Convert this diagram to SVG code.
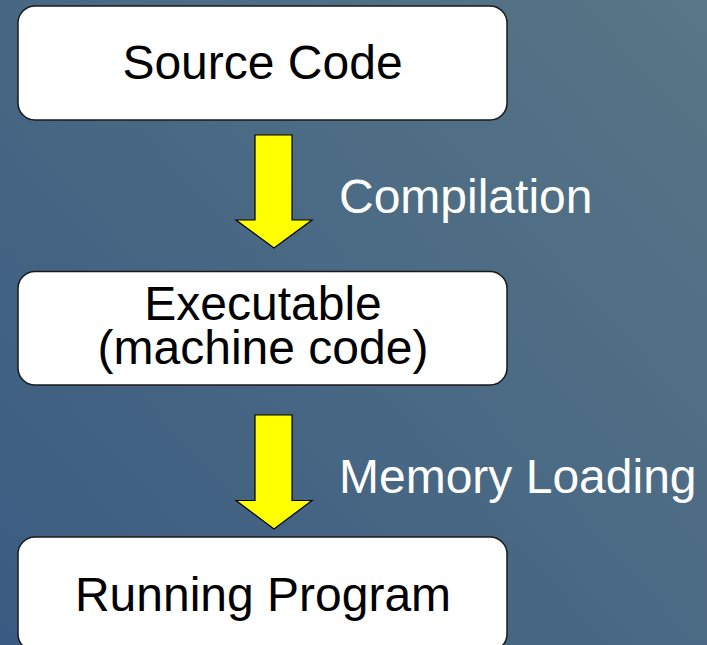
<svg xmlns="http://www.w3.org/2000/svg" width="707" height="645" viewBox="0 0 707 645">
<defs>
<linearGradient id="bg" x1="0" y1="645" x2="707" y2="0" gradientUnits="userSpaceOnUse">
<stop offset="0" stop-color="#3b5b82"/>
<stop offset="1" stop-color="#587686"/>
</linearGradient>
<style>
.box{fill:#ffffff;stroke:#1a1a1a;stroke-width:1.5}
.arrow{fill:#ffff00;stroke:#000000;stroke-width:1.2;stroke-linejoin:miter}
.t{font-family:"Liberation Sans",Arial,sans-serif;font-size:48px;fill:#000000;text-anchor:middle}
.lbl{font-family:"Liberation Sans",Arial,sans-serif;font-size:48px;fill:#ffffff}
</style>
</defs>
<rect x="0" y="0" width="707" height="645" fill="url(#bg)"/>
<g id="connectors">
<g id="compilation">
<polygon class="arrow" points="255,135 292,135 292,220 312,220 274,248 236,220 255,220"/>
<text class="lbl" x="339" y="213">Compilation</text>
</g>
<g id="memory-loading">
<polygon class="arrow" points="255,415 292,415 292,500.5 312,500.5 274,529 236,500.5 255,500.5"/>
<text class="lbl" x="339" y="493">Memory Loading</text>
</g>
</g>
<g id="source-code">
<rect class="box" x="18" y="6" width="489" height="114" rx="17" ry="17"/>
<text class="t" x="262.5" y="79">Source Code</text>
</g>
<g id="executable">
<rect class="box" x="18" y="271.5" width="489" height="113.5" rx="17" ry="17"/>
<text class="t" x="263" y="320">Executable</text>
<text class="t" x="263" y="364">(machine code)</text>
</g>
<g id="running-program">
<rect class="box" x="18" y="537" width="489" height="114" rx="17" ry="17"/>
<text class="t" x="263" y="611">Running Program</text>
</g>
</svg>
